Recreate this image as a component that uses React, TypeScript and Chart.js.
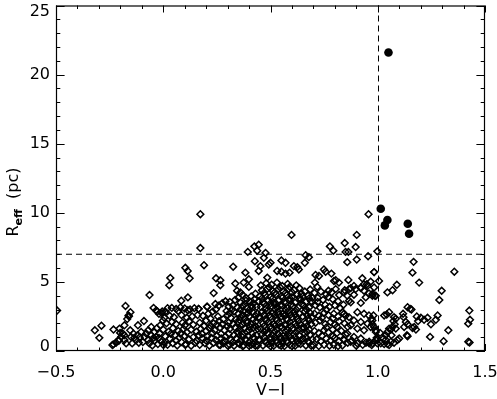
import React, { useEffect, useRef } from "react";
import { Chart, registerables } from "chart.js";

Chart.register(...registerables);

type P = [number, number];

// axis ticks
const xMajorTicks = [-0.5, 0.0, 0.5, 1.0, 1.5];
const xTickLabels = ["\u22120.5", "0.0", "0.5", "1.0", "1.5"];
const yMajorTicks = [0, 5, 10, 15, 20, 25];
const yTickLabels = ["0", "5", "10", "15", "20", "25"];
const xMinorStep = 0.1;
const yMinorStep = 1;
const colourCut = 1.0; // vertical dashed line at V-I = 1.0
const sizeCut = 7; // horizontal dashed line at Reff = 7 pc

// open diamonds (all clusters), grouped by region of the diagram
const leftWing: P[] = [
  [-0.495, 2.93], [-0.319, 1.5], [-0.288, 1.83], [-0.298, 0.95], [-0.232, 1.55], [-0.204, 1.62],
  [-0.232, 0.48], [-0.22, 0.6], [-0.207, 0.74], [-0.196, 1.02], [-0.188, 1.26], [-0.181, 1.86],
  [-0.176, 3.26], [-0.168, 2.31], [-0.16, 2.52], [-0.153, 2.81], [-0.181, 0.79], [-0.154, 1.5],
  [-0.15, 1.02], [-0.139, 1.26], [-0.126, 0.79], [-0.118, 1.86], [-0.114, 0.6], [-0.103, 1.38],
  [-0.09, 2.17], [-0.079, 1.26], [-0.064, 4.05], [-0.056, 1.74], [-0.051, 0.4], [-0.045, 3.12],
  [-0.033, 2.93], [-0.02, 2.69], [-0.014, 1.86], [-0.005, 2.86], [-0.001, 2.21], [-0.041, 1.38],
  [-0.033, 1.02], [-0.017, 1.26], [-0.009, 0.67], [-0.056, 1.14], [-0.071, 0.79], [-0.087, 1.02],
  [-0.145, 0.55], [-0.173, 0.55], [-0.11, 1.0], [-0.095, 0.65], [-0.065, 0.55], [-0.04, 0.75],
  [-0.025, 0.5], [-0.07, 1.5], [-0.03, 1.65], [-0.12, 1.15], [-0.135, 0.95], [-0.02, 0.95],
  [-0.045, 0.95], [-0.201, 1.31], [-0.182, 1.14], [-0.209, 0.79], [-0.237, 0.43], [-0.162, 2.57],
  [-0.027, 2.86], [-0.006, 2.74],
];

const blueBand: P[] = [
  [0.02, 3.1], [0.04, 3.12], [0.06, 3.05], [0.08, 3.15], [0.1, 3.08], [0.125, 3.0], [0.145, 3.1],
  [0.165, 3.05], [0.205, 3.2], [0.01, 2.85], [0.07, 2.9], [0.115, 2.95],
  [0.005, 2.4], [0.03, 2.55], [0.05, 2.45], [0.085, 2.6], [0.11, 2.4], [0.135, 2.5], [0.16, 2.6],
  [0.185, 2.55], [0.21, 2.7], [0.23, 2.85], [0.245, 3.0], [0.26, 3.3], [0.275, 3.45], [0.29, 3.6],
  [0.255, 2.5], [0.22, 2.35],
  [0.015, 2.0], [0.04, 2.1], [0.06, 1.95], [0.09, 2.05], [0.1, 1.85], [0.12, 2.15], [0.14, 1.9],
  [0.17, 2.05], [0.19, 1.8], [0.2, 2.2], [0.235, 2.0], [0.26, 2.15], [0.28, 2.3], [0.3, 2.6], [0.295, 2.9],
  [0.0, 1.55], [0.025, 1.4], [0.045, 1.65], [0.07, 1.45], [0.095, 1.6], [0.11, 1.35], [0.13, 1.55],
  [0.155, 1.4], [0.175, 1.6], [0.2, 1.45], [0.215, 1.65], [0.24, 1.5], [0.265, 1.7], [0.285, 1.5], [0.3, 1.8],
  [0.01, 1.05], [0.03, 0.9], [0.055, 1.15], [0.075, 0.95], [0.1, 1.1], [0.12, 0.85], [0.14, 1.0],
  [0.165, 1.15], [0.185, 0.9], [0.205, 1.05], [0.225, 0.95], [0.25, 1.1], [0.27, 0.9], [0.29, 1.05],
  [0.005, 0.6], [0.02, 0.45], [0.045, 0.55], [0.065, 0.4], [0.085, 0.65], [0.105, 0.5], [0.13, 0.38],
  [0.15, 0.6], [0.17, 0.45], [0.195, 0.55], [0.215, 0.38], [0.235, 0.6], [0.26, 0.45], [0.28, 0.55], [0.3, 0.4],
  [0.266, 0.43], [0.103, 0.43], [0.001, 0.43],
  [0.18, 1.25], [0.23, 1.3], [0.27, 1.25], [0.155, 0.75], [0.2, 0.75], [0.245, 0.8], [0.285, 0.75],
  [0.22, 1.85], [0.25, 1.9], [0.275, 1.95], [0.06, 0.75], [0.08, 1.25], [0.035, 1.25],
];

const midCluster: P[] = [
  [0.37, 4.05], [0.41, 3.95], [0.43, 4.15], [0.35, 3.85],
  [0.31, 3.55], [0.335, 3.7], [0.36, 3.5], [0.385, 3.65], [0.405, 3.55], [0.425, 3.75], [0.445, 3.6],
  [0.305, 3.2], [0.325, 3.3], [0.345, 3.15], [0.37, 3.25], [0.39, 3.1], [0.41, 3.3], [0.435, 3.2], [0.32, 3.0],
  [0.31, 2.75], [0.33, 2.85], [0.35, 2.7], [0.375, 2.9], [0.395, 2.75], [0.415, 2.85], [0.44, 2.7],
  [0.315, 2.4], [0.34, 2.3], [0.36, 2.45], [0.38, 2.35], [0.4, 2.5], [0.42, 2.3], [0.445, 2.45],
  [0.305, 2.05], [0.325, 1.95], [0.35, 2.1], [0.37, 1.9], [0.39, 2.05], [0.41, 1.95], [0.43, 2.1],
  [0.31, 1.6], [0.335, 1.7], [0.355, 1.55], [0.38, 1.65], [0.4, 1.5], [0.42, 1.7], [0.44, 1.6],
  [0.305, 1.25], [0.33, 1.15], [0.35, 1.3], [0.37, 1.2], [0.395, 1.1], [0.415, 1.25], [0.435, 1.15],
  [0.315, 0.8], [0.34, 0.9], [0.36, 0.75], [0.385, 0.85], [0.405, 0.7], [0.425, 0.9], [0.445, 0.8],
  [0.31, 0.45], [0.33, 0.38], [0.355, 0.5], [0.375, 0.4], [0.4, 0.38], [0.42, 0.5], [0.44, 0.4],
  [0.38, 3.4], [0.42, 3.45], [0.36, 3.0], [0.4, 2.95], [0.43, 2.55], [0.37, 2.6], [0.39, 2.2],
  [0.43, 1.8], [0.36, 1.8], [0.39, 1.4], [0.42, 1.0], [0.37, 1.0], [0.4, 0.6], [0.35, 0.6],
  [0.43, 0.38], [0.37, 0.35],
  [0.385, 3.85], [0.415, 3.15], [0.355, 2.25], [0.405, 1.75], [0.345, 1.4], [0.41, 0.45], [0.325, 0.65],
];

const coreCluster: P[] = [
  [0.455, 4.75], [0.48, 4.9], [0.505, 4.8], [0.53, 4.95], [0.555, 4.7], [0.58, 4.85], [0.62, 4.75],
  [0.46, 4.4], [0.485, 4.5], [0.51, 4.35], [0.535, 4.45], [0.56, 4.3], [0.585, 4.5], [0.61, 4.4],
  [0.635, 4.55], [0.66, 4.3], [0.685, 4.45],
  [0.45, 3.95], [0.475, 4.05], [0.5, 3.9], [0.525, 4.1], [0.55, 3.95], [0.575, 4.05], [0.6, 3.9],
  [0.625, 4.1], [0.65, 3.95], [0.675, 4.0], [0.695, 3.85],
  [0.465, 3.55], [0.49, 3.65], [0.515, 3.5], [0.54, 3.7], [0.565, 3.55], [0.59, 3.65], [0.615, 3.5],
  [0.64, 3.7], [0.665, 3.55], [0.69, 3.6],
  [0.455, 3.2], [0.48, 3.1], [0.505, 3.25], [0.53, 3.15], [0.555, 3.3], [0.58, 3.1], [0.605, 3.25],
  [0.63, 3.15], [0.655, 3.3], [0.68, 3.15],
  [0.46, 2.8], [0.485, 2.9], [0.51, 2.75], [0.535, 2.85], [0.56, 2.7], [0.585, 2.9], [0.61, 2.8],
  [0.635, 2.7], [0.66, 2.85], [0.685, 2.75],
  [0.45, 2.4], [0.475, 2.3], [0.5, 2.45], [0.525, 2.35], [0.55, 2.5], [0.575, 2.3], [0.6, 2.45],
  [0.625, 2.35], [0.65, 2.5], [0.675, 2.35], [0.695, 2.45],
  [0.465, 2.0], [0.49, 2.1], [0.515, 1.95], [0.54, 2.05], [0.565, 1.9], [0.59, 2.1], [0.615, 2.0],
  [0.64, 1.9], [0.665, 2.05], [0.69, 1.95],
  [0.455, 1.6], [0.48, 1.5], [0.505, 1.65], [0.53, 1.55], [0.555, 1.7], [0.58, 1.5], [0.605, 1.65],
  [0.63, 1.55], [0.655, 1.7], [0.68, 1.55],
  [0.46, 1.2], [0.485, 1.3], [0.51, 1.15], [0.535, 1.25], [0.56, 1.1], [0.585, 1.3], [0.61, 1.2],
  [0.635, 1.1], [0.66, 1.25], [0.685, 1.15],
  [0.45, 0.8], [0.475, 0.7], [0.5, 0.85], [0.525, 0.75], [0.55, 0.9], [0.575, 0.7], [0.6, 0.85],
  [0.625, 0.75], [0.65, 0.9], [0.675, 0.7], [0.695, 0.85],
  [0.465, 0.4], [0.49, 0.5], [0.515, 0.38], [0.54, 0.45], [0.565, 0.36], [0.59, 0.45], [0.615, 0.38],
  [0.64, 0.5], [0.665, 0.4], [0.69, 0.38],
  [0.47, 4.2], [0.52, 4.25], [0.57, 4.2], [0.6, 4.25], [0.645, 4.15],
  [0.46, 3.8], [0.51, 3.8], [0.555, 3.85], [0.59, 3.8], [0.635, 3.85], [0.68, 3.8],
  [0.47, 3.4], [0.52, 3.35], [0.57, 3.45], [0.595, 3.35], [0.645, 3.4],
  [0.475, 3.0], [0.52, 3.0], [0.57, 2.95], [0.62, 3.0], [0.665, 3.05],
  [0.47, 2.6], [0.52, 2.6], [0.565, 2.55], [0.615, 2.6], [0.67, 2.6],
  [0.48, 2.2], [0.53, 2.2], [0.58, 2.25], [0.63, 2.15], [0.68, 2.2],
  [0.47, 1.8], [0.52, 1.8], [0.57, 1.85], [0.62, 1.8], [0.67, 1.8],
  [0.47, 1.4], [0.52, 1.4], [0.57, 1.4], [0.62, 1.35], [0.67, 1.4],
  [0.47, 1.0], [0.52, 1.0], [0.57, 0.95], [0.615, 1.0], [0.665, 1.0],
  [0.48, 0.6], [0.53, 0.6], [0.58, 0.6], [0.63, 0.55], [0.68, 0.6],
  [0.5, 0.36], [0.55, 0.38], [0.6, 0.36],
  [0.495, 4.6], [0.545, 4.6], [0.59, 4.65], [0.5, 3.45], [0.545, 3.3], [0.495, 2.6], [0.54, 2.65],
  [0.595, 2.65], [0.5, 1.8], [0.545, 1.75], [0.595, 1.8], [0.645, 1.65], [0.5, 1.0], [0.545, 1.05],
  [0.59, 1.05], [0.64, 0.75], [0.505, 0.6], [0.555, 0.6],
];

const redSide: P[] = [
  [0.72, 3.85], [0.745, 3.7], [0.77, 3.9], [0.79, 3.75], [0.815, 3.6], [0.705, 4.2], [0.735, 4.3],
  [0.76, 4.1], [0.785, 4.25], [0.82, 4.05],
  [0.71, 3.3], [0.73, 3.15], [0.755, 3.35], [0.775, 3.2], [0.8, 3.3], [0.825, 3.1], [0.84, 3.35],
  [0.705, 2.7], [0.725, 2.55], [0.75, 2.75], [0.77, 2.6], [0.795, 2.7], [0.815, 2.5], [0.835, 2.8], [0.85, 2.55],
  [0.71, 2.05], [0.73, 2.2], [0.755, 1.95], [0.78, 2.1], [0.8, 1.9], [0.82, 2.15], [0.845, 2.0], [0.86, 1.75],
  [0.705, 1.45], [0.725, 1.3], [0.75, 1.5], [0.77, 1.35], [0.79, 1.55], [0.81, 1.3], [0.83, 1.45], [0.85, 1.2],
  [0.715, 0.85], [0.735, 0.7], [0.76, 0.9], [0.78, 0.75], [0.8, 0.95], [0.82, 0.7], [0.84, 0.85],
  [0.86, 0.6], [0.88, 0.75],
  [0.7, 0.4], [0.725, 0.36], [0.75, 0.45], [0.775, 0.38], [0.795, 0.45], [0.815, 0.36], [0.835, 0.4],
  [0.9, 0.38], [0.93, 0.45], [0.945, 0.6],
  [0.967, 5.02], [0.952, 4.71], [0.936, 4.83], [0.983, 4.6], [0.975, 4.12], [0.959, 4.17], [0.936, 4.36],
  [0.921, 4.6], [0.897, 4.48], [0.866, 4.48], [0.858, 4.0], [0.874, 3.52], [0.921, 3.48], [0.843, 4.24],
  [0.889, 4.71], [0.991, 4.0],
  [0.905, 2.81], [0.936, 2.69], [0.959, 2.57], [0.975, 2.21], [0.952, 1.98], [0.921, 2.1], [0.889, 2.21],
  [0.866, 2.45], [0.843, 2.69], [0.874, 1.86], [0.905, 1.62], [0.936, 1.5], [0.967, 1.74], [0.991, 1.38],
  [0.858, 1.26], [0.889, 1.02], [0.921, 0.9], [0.96, 0.67], [0.975, 0.55], [0.991, 0.79], [0.874, 0.67],
  [0.843, 0.79], [0.905, 0.55], [0.96, 0.55], [0.972, 0.43],
  [0.74, 2.4], [0.79, 2.35], [0.76, 1.7], [0.81, 1.75], [0.74, 1.1], [0.79, 1.05], [0.72, 3.55], [0.76, 3.0],
];

const redTail: P[] = [
  [1.167, 6.45], [1.162, 5.67], [1.193, 4.95], [1.357, 5.74], [1.298, 4.36], [1.287, 3.69], [1.006, 5.07],
  [1.045, 4.24], [1.069, 4.4], [1.089, 4.79], [1.427, 2.93], [1.43, 2.26], [1.422, 1.98], [1.422, 0.67],
  [1.428, 0.62], [1.279, 2.57], [1.271, 2.26], [1.329, 1.5], [1.307, 0.71], [1.244, 1.02], [1.248, 1.93],
  [1.232, 2.4], [1.216, 2.26], [1.201, 2.4], [1.188, 2.17], [1.182, 2.5], [1.17, 1.74], [1.162, 1.67],
  [1.178, 1.55], [1.151, 3.05], [1.157, 3.0], [1.139, 3.17], [1.118, 2.69], [1.12, 2.45], [1.131, 2.1],
  [1.139, 1.93], [1.123, 1.74], [1.136, 1.14], [1.139, 1.07], [1.03, 2.57], [1.042, 2.64], [1.053, 2.81],
  [1.076, 2.45], [1.084, 2.33], [1.073, 2.17], [1.079, 1.93], [1.069, 1.74], [1.061, 1.55], [1.084, 1.62],
  [1.053, 1.62], [1.045, 1.38], [1.037, 1.14], [1.064, 1.14], [1.027, 0.9], [1.037, 0.79], [1.061, 0.67],
  [1.076, 0.6], [1.092, 0.79], [1.1, 0.9], [1.014, 0.55], [1.045, 0.5], [0.995, 0.95], [0.998, 0.83],
  [0.983, 1.74], [0.975, 1.93], [0.991, 1.5], [0.98, 2.57], [0.971, 2.33], [1.011, 1.31], [0.998, 0.55],
  [1.03, 0.5], [1.053, 0.43], [0.998, 7.21], [0.983, 5.71], [0.987, 4.0], [0.975, 4.0],
];

const upperScatter: P[] = [
  [0.173, 9.9], [0.173, 7.45], [0.19, 6.21], [0.103, 6.02], [0.114, 5.79], [0.123, 5.26], [0.033, 5.29],
  [0.028, 4.76], [0.246, 5.26], [0.266, 5.12], [0.266, 4.76], [0.235, 4.19], [0.326, 6.1], [0.336, 4.88],
  [0.344, 4.36], [0.084, 3.64], [0.115, 3.88], [0.243, 3.4], [0.204, 3.21], [0.165, 3.05],
  [0.394, 7.17], [0.425, 7.57], [0.445, 7.69], [0.438, 7.26], [0.477, 7.1], [0.469, 6.74], [0.427, 6.5],
  [0.453, 6.14], [0.492, 6.26], [0.445, 5.79], [0.383, 5.67], [0.399, 5.19], [0.375, 4.95], [0.485, 5.31],
  [0.399, 4.64], [0.36, 4.24],
  [0.957, 9.9], [0.598, 8.4], [0.902, 8.4], [0.777, 7.57], [0.793, 7.26], [0.846, 7.81], [0.897, 7.52],
  [0.85, 7.17], [0.863, 7.17], [0.858, 6.43], [0.902, 6.62], [0.955, 6.86], [0.5, 6.38], [0.664, 6.93],
  [0.679, 6.79], [0.66, 6.38], [0.551, 6.55], [0.57, 6.38], [0.609, 6.14], [0.625, 6.07], [0.632, 5.9],
  [0.531, 5.79], [0.551, 5.74], [0.57, 5.6], [0.589, 5.67], [0.749, 5.9], [0.784, 5.6], [0.757, 5.74],
  [0.726, 5.43], [0.71, 5.5], [0.804, 5.12], [0.796, 5.07], [0.819, 4.95], [0.863, 5.14], [0.928, 5.26],
  [0.983, 5.71], [0.949, 4.83], [0.921, 4.55], [0.846, 4.4], [0.874, 4.55], [0.889, 4.07],
  [0.866, 3.64], [0.804, 4.48], [0.77, 4.36], [0.944, 3.88], [0.707, 4.95], [0.718, 4.64],
];

// filled circles: the large clusters
const largeClusters: P[] = [
  [1.05, 21.6], [1.014, 10.29], [1.045, 9.48], [1.033, 9.09], [1.14, 9.21], [1.146, 8.48],
];

const FONT = "'DejaVu Sans', 'Liberation Sans', sans-serif";

const axesPlugin = {
  id: "idlAxes",
  beforeDatasetsDraw(chart: any) {
    const { ctx, chartArea: a, scales } = chart;
    const x = scales.x, y = scales.y;
    ctx.save();
    ctx.strokeStyle = "#000";
    ctx.lineWidth = 1;
    ctx.setLineDash([6, 4]);
    const vx = Math.round(x.getPixelForValue(colourCut)) + 0.5;
    ctx.beginPath();
    ctx.moveTo(vx, a.top);
    ctx.lineTo(vx, a.bottom);
    ctx.stroke();
    const hy = y.getPixelForValue(sizeCut);
    ctx.beginPath();
    ctx.moveTo(a.left, hy);
    ctx.lineTo(a.right, hy);
    ctx.stroke();
    ctx.restore();
  },
  afterDatasetsDraw(chart: any) {
    const { ctx, chartArea: a, scales } = chart;
    const x = scales.x, y = scales.y;
    ctx.save();
    ctx.strokeStyle = "#000";
    ctx.fillStyle = "#000";
    ctx.lineWidth = 1.2;
    ctx.setLineDash([]);
    ctx.strokeRect(a.left + 0.5, a.top + 0.5, a.right - a.left - 1, a.bottom - a.top - 1);
    const xMaj = 7, xMin = 3.5, yMaj = 8.6, yMin = 4.3;
    ctx.lineWidth = 1;
    ctx.beginPath();
    const nx = Math.round((x.max - x.min) / xMinorStep);
    for (let i = 0; i <= nx; i++) {
      const v = x.min + i * xMinorStep;
      const px = Math.round(x.getPixelForValue(v)) + 0.5;
      const major = xMajorTicks.some((t) => Math.abs(t - v) < 1e-6);
      const len = major ? xMaj : xMin;
      ctx.moveTo(px, a.bottom);
      ctx.lineTo(px, a.bottom - len);
      ctx.moveTo(px, a.top);
      ctx.lineTo(px, a.top + len);
    }
    const ny = Math.round((y.max - y.min) / yMinorStep);
    for (let i = 0; i <= ny; i++) {
      const v = y.min + i * yMinorStep;
      const py = Math.round(y.getPixelForValue(v)) + 0.5;
      const major = yMajorTicks.some((t) => Math.abs(t - v) < 1e-6);
      const len = major ? yMaj : yMin;
      ctx.moveTo(a.left, py);
      ctx.lineTo(a.left + len, py);
      ctx.moveTo(a.right, py);
      ctx.lineTo(a.right - len, py);
    }
    ctx.stroke();

    ctx.font = `16px ${FONT}`;
    ctx.textBaseline = "middle";
    ctx.textAlign = "center";
    xMajorTicks.forEach((t, i) => {
      ctx.fillText(xTickLabels[i], x.getPixelForValue(t), 372.5);
    });
    ctx.textAlign = "right";
    yMajorTicks.forEach((t, i) => {
      const py = Math.min(Math.max(y.getPixelForValue(t), a.top + 6), a.bottom - 4);
      ctx.fillText(yTickLabels[i], a.left - 6, py);
    });

    ctx.textAlign = "center";
    ctx.font = `16px ${FONT}`;
    ctx.fillText("V\u2212I", (a.left + a.right) / 2, 391);

    ctx.translate(18, 202);
    ctx.rotate(-Math.PI / 2);
    ctx.textBaseline = "alphabetic";
    ctx.textAlign = "left";
    const mainF = `16px ${FONT}`;
    const subF = `bold 11px ${FONT}`;
    ctx.font = mainF;
    const w1 = ctx.measureText("R").width;
    const w3 = ctx.measureText("  (pc)").width;
    ctx.font = subF;
    const w2 = ctx.measureText("eff").width;
    let cx = -(w1 + w2 + w3) / 2;
    ctx.font = mainF;
    ctx.fillText("R", cx, 0);
    cx += w1;
    ctx.font = subF;
    ctx.fillText("eff", cx, 4);
    cx += w2;
    ctx.font = mainF;
    ctx.fillText("  (pc)", cx, 0);
    ctx.restore();
  },
};

const toXY = (arr: P[]) => arr.map(([x, y]) => ({ x, y }));

export default function App() {
  const ref = useRef<HTMLCanvasElement | null>(null);
  useEffect(() => {
    if (!ref.current) return;
    const diamonds = [
      ...leftWing, ...blueBand, ...midCluster, ...coreCluster, ...redSide, ...redTail, ...upperScatter,
    ];
    const chart = new Chart(ref.current, {
      type: "scatter",
      data: {
        datasets: [
          {
            data: toXY(diamonds),
            pointStyle: "rectRot",
            pointRadius: 3.4,
            borderWidth: 1.5,
            borderColor: "#000",
            backgroundColor: "rgba(0,0,0,0)",
            clip: 0,
          } as any,
          {
            data: toXY(largeClusters),
            pointStyle: "circle",
            pointRadius: 4.3,
            borderWidth: 0,
            backgroundColor: "#000",
            borderColor: "#000",
          } as any,
        ],
      },
      options: {
        animation: false,
        responsive: false,
        events: [],
        layout: { padding: { left: 0, right: 12, top: 1, bottom: 0 } },
        plugins: { legend: { display: false }, tooltip: { enabled: false } },
        scales: {
          x: {
            type: "linear",
            min: -0.5,
            max: 1.5,
            grid: { display: false },
            border: { display: false },
            ticks: { display: false },
            afterFit: (s: any) => { s.height = 48; },
          },
          y: {
            type: "linear",
            min: 0,
            max: 25,
            grid: { display: false },
            border: { display: false },
            ticks: { display: false },
            afterFit: (s: any) => { s.width = 56; },
          },
        },
      },
      plugins: [axesPlugin],
    });
    return () => chart.destroy();
  }, []);
  return (
    <div style={{ position: "absolute", left: 0, top: 0, width: 497, height: 399, background: "#fff" }}>
      <canvas ref={ref} width={497} height={399} style={{ display: "block" }} />
    </div>
  );
}
